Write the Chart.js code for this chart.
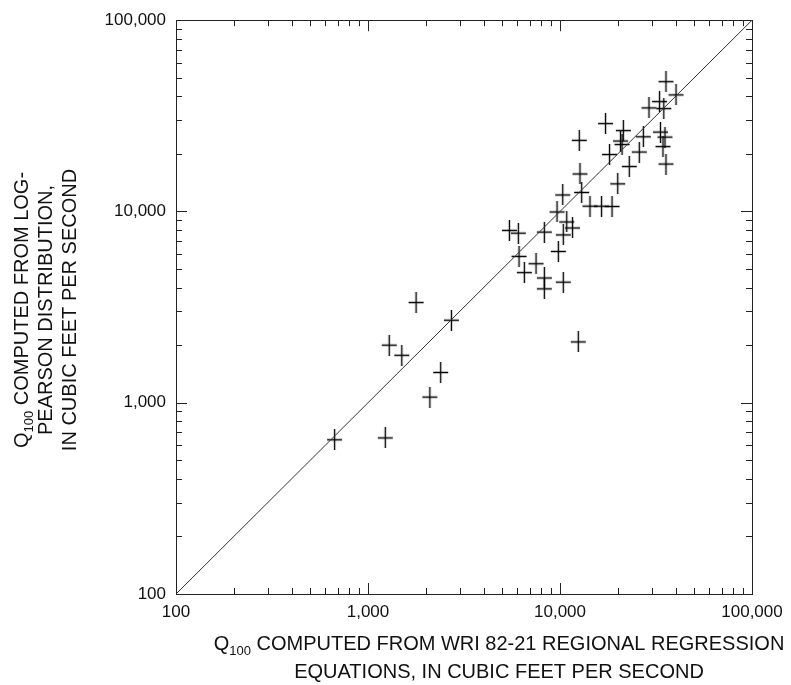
<!DOCTYPE html>
<html>
<head>
<meta charset="utf-8">
<script src="https://cdn.jsdelivr.net/npm/chart.js@4.4.0/dist/chart.umd.min.js"></script>
<style>
  html, body { margin: 0; padding: 0; background: #fff; }
  #wrap { width: 791px; height: 685px; }
</style>
</head>
<body>
<div id="wrap"><canvas id="grafico" width="791" height="685"></canvas></div>
<script>
// Q100 das equacoes regionais (eixo x) contra Q100 log-Pearson (eixo y), pes cubicos por segundo
let regressaoQ100 = [670, 1230, 1290, 1500, 1780, 2100, 2390, 2720,
  5450, 6070, 8290, 6120, 7500, 6520, 8290, 8290, 10400, 12450,
  9800, 10400, 10840, 11620, 9650, 10330, 12710, 12970, 14330, 16450,
  18660, 19980, 22960, 18110, 25880, 35650, 12600, 17260, 21370, 20660,
  21040, 27160, 33370, 35220, 34390, 35650, 40200, 32980, 29070, 34720];
let logPearsonQ100 = [640, 655, 2000, 1770, 3340, 1070, 1440, 2700,
  7960, 7700, 7800, 5820, 5330, 4790, 4490, 3940, 4270, 2080,
  6180, 7540, 8810, 8200, 9940, 12200, 15700, 12570, 10660, 10650,
  10620, 13950, 17180, 19850, 20460, 17700, 23540, 28810, 26480, 23340,
  22380, 24580, 26010, 24490, 21840, 47730, 40680, 37530, 34790, 34510];

let ticksPrincipais = [100, 1000, 10000, 100000];
let linhaIgual = [100, 100000];

let fonte = "'Liberation Sans', Arial, Helvetica, sans-serif";

function todosTicks() {
  let lista = [];
  for (let d = 100; d < 100000; d *= 10) {
    for (let m = 1; m < 10; m++) lista.push({ value: d * m });
  }
  lista.push({ value: 100000 });
  return lista;
}

function criarCruz() {
  let c = document.createElement("canvas");
  c.width = 17;
  c.height = 21;
  let g = c.getContext("2d");
  g.strokeStyle = "#000";
  g.lineWidth = 1.4;
  g.beginPath();
  g.moveTo(8.5, 0);
  g.lineTo(8.5, 21);
  g.moveTo(1, 10.5);
  g.lineTo(16, 10.5);
  g.stroke();
  return c;
}

let pontos = regressaoQ100.map((v, i) => ({ x: v, y: logPearsonQ100[i] }));

// caixa e marcas para dentro nos quatro lados
const marcasPlugin = {
  id: "marcas",
  beforeDatasetsDraw(chart) {
    let { ctx, chartArea: a, scales } = chart;
    ctx.save();
    ctx.strokeStyle = "#222";
    ctx.lineWidth = 1;
    ctx.strokeRect(Math.round(a.left) + 0.5, Math.round(a.top) + 0.5,
      Math.round(a.right - a.left), Math.round(a.bottom - a.top));
    ctx.beginPath();
    scales.x.ticks.forEach((t) => {
      if (t.value == 100 || t.value == 100000) return;
      let px = Math.round(scales.x.getPixelForValue(t.value)) + 0.5;
      let len = ticksPrincipais.includes(t.value) ? 11 : 6;
      ctx.moveTo(px, a.bottom);
      ctx.lineTo(px, a.bottom - len);
      ctx.moveTo(px, a.top);
      ctx.lineTo(px, a.top + len);
    });
    scales.y.ticks.forEach((t) => {
      if (t.value == 100 || t.value == 100000) return;
      let py = Math.round(scales.y.getPixelForValue(t.value)) + 0.5;
      let len = ticksPrincipais.includes(t.value) ? 11 : 6;
      ctx.moveTo(a.left, py);
      ctx.lineTo(a.left + len, py);
      ctx.moveTo(a.right, py);
      ctx.lineTo(a.right - len, py);
    });
    ctx.stroke();
    ctx.restore();
  },
};

function larguraPartes(ctx, partes) {
  let total = 0;
  partes.forEach((p) => {
    ctx.font = p.size + "px " + fonte;
    p.w = ctx.measureText(p.t).width;
    total += p.w;
  });
  return total;
}

function desenharLinha(ctx, partes, cx, cy) {
  let total = larguraPartes(ctx, partes);
  let x = cx - total / 2;
  partes.forEach((p) => {
    ctx.font = p.size + "px " + fonte;
    ctx.fillText(p.t, x, cy + (p.dy || 0));
    x += p.w;
  });
}

const titulosPlugin = {
  id: "titulos",
  afterDraw(chart) {
    let ctx = chart.ctx;
    ctx.save();
    ctx.fillStyle = "#111";
    ctx.textBaseline = "alphabetic";
    ctx.textAlign = "left";

    // eixo x
    desenharLinha(ctx, [
      { t: "Q", size: 20 },
      { t: "100", size: 13, dy: 5 },
      { t: " COMPUTED FROM WRI 82-21 REGIONAL REGRESSION", size: 20 },
    ], 499, 650);
    desenharLinha(ctx, [{ t: "EQUATIONS, IN CUBIC FEET PER SECOND", size: 20 }], 499, 678);

    // eixo y
    let linhasY = [
      { x: 28, partes: [
        { t: "Q", size: 20 },
        { t: "100", size: 13, dy: 5 },
        { t: " COMPUTED FROM LOG-", size: 20 },
      ] },
      { x: 52, partes: [{ t: "PEARSON DISTRIBUTION,", size: 20 }] },
      { x: 76, partes: [{ t: "IN CUBIC FEET PER SECOND", size: 20 }] },
    ];
    linhasY.forEach((l) => {
      ctx.save();
      ctx.translate(l.x, 310);
      ctx.rotate(-Math.PI / 2);
      desenharLinha(ctx, l.partes, 0, 0);
      ctx.restore();
    });
    ctx.restore();
  },
};

function rotuloTick(value) {
  return ticksPrincipais.includes(value) ? value.toLocaleString("en-US") : "";
}

new Chart(document.getElementById("grafico"), {
  type: "scatter",
  data: {
    datasets: [
      {
        label: "linha 1:1",
        data: linhaIgual.map((v) => ({ x: v, y: v })),
        showLine: true,
        borderColor: "#333",
        borderWidth: 1,
        pointRadius: 0,
        fill: false,
      },
      {
        label: "estacoes",
        data: pontos,
        pointStyle: criarCruz(),
        pointRadius: 10,
        showLine: false,
      },
    ],
  },
  options: {
    responsive: false,
    animation: false,
    devicePixelRatio: 1,
    layout: { padding: { top: 19, right: 39, left: 0, bottom: 0 } },
    plugins: { legend: { display: false }, tooltip: { enabled: false } },
    scales: {
      x: {
        type: "logarithmic",
        position: "bottom",
        min: 100,
        max: 100000,
        afterBuildTicks: (s) => { s.ticks = todosTicks(); },
        afterFit: (s) => { s.height = 91; },
        grid: { display: false, drawTicks: false },
        border: { display: false },
        ticks: {
          autoSkip: false,
          maxRotation: 0,
          padding: 8,
          color: "#111",
          font: { family: fonte, size: 17 },
          callback: rotuloTick,
        },
      },
      y: {
        type: "logarithmic",
        min: 100,
        max: 100000,
        afterBuildTicks: (s) => { s.ticks = todosTicks(); },
        afterFit: (s) => { s.width = 176; },
        grid: { display: false, drawTicks: false },
        border: { display: false },
        ticks: {
          autoSkip: false,
          padding: 10,
          color: "#111",
          font: { family: fonte, size: 17 },
          callback: rotuloTick,
        },
      },
    },
  },
  plugins: [marcasPlugin, titulosPlugin],
});
</script>
</body>
</html>
